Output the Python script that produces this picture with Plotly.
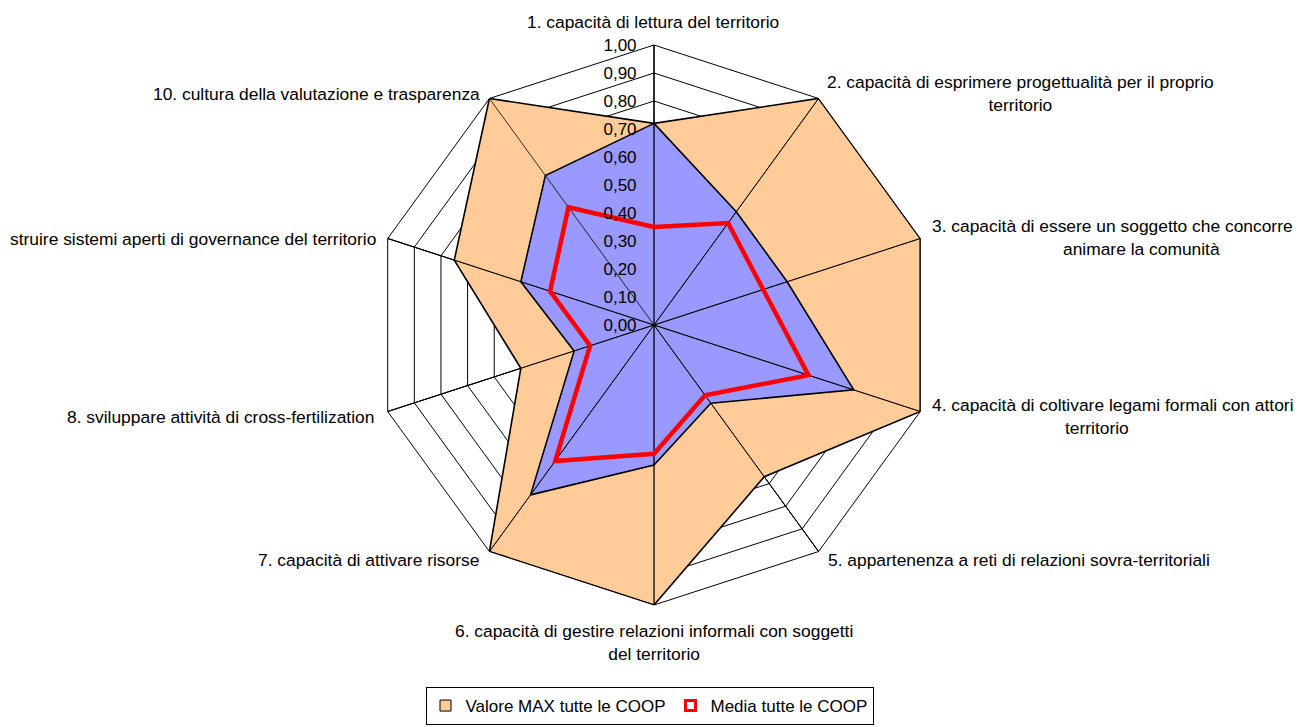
import plotly.graph_objects as go

categories = [
    "1. capacità di lettura del territorio",
    "2. capacità di esprimere progettualità per il proprio territorio",
    "3. capacità di essere un soggetto che concorre ad animare la comunità",
    "4. capacità di coltivare legami formali con attori del territorio",
    "5. appartenenza a reti di relazioni sovra-territoriali",
    "6. capacità di gestire relazioni informali con soggetti del territorio",
    "7. capacità di attivare risorse",
    "8. sviluppare attività di cross-fertilization",
    "9. capacità di costruire sistemi aperti di governance del territorio",
    "10. cultura della valutazione e trasparenza",
]
max_values = [0.72, 1.00, 1.00, 1.00, 0.67, 1.00, 1.00, 0.50, 0.75, 1.00]
blue_values = [0.72, 0.50, 0.50, 0.75, 0.345, 0.50, 0.75, 0.30, 0.50, 0.66]
media_values = [0.35, 0.45, 0.41, 0.58, 0.31, 0.46, 0.60, 0.24, 0.39, 0.52]
series_names = ["Valore MAX tutte le COOP", "Serie COOP", "Media tutte le COOP"]
radial_ticks = [0.0, 0.1, 0.2, 0.3, 0.4, 0.5, 0.6, 0.7, 0.8, 0.9, 1.0]

W, H = 1299, 727
FONT = "Liberation Sans, Arial, Helvetica, sans-serif"
FS = 17.4

def closed(vals):
    return list(vals) + [vals[0]]

theta_closed = closed(categories)

fig = go.Figure()
fig.add_trace(go.Scatterpolar(
    r=closed(max_values), theta=theta_closed, name=series_names[0],
    mode="lines", fill="toself", fillcolor="#FFCC99",
    line=dict(color="black", width=1.6), showlegend=False, legendgroup="max",
))
fig.add_trace(go.Scatterpolar(
    r=closed(blue_values), theta=theta_closed, name=series_names[1],
    mode="lines", fill="toself", fillcolor="#9999FF",
    line=dict(color="black", width=1.6), showlegend=False,
))
# category spokes drawn above the filled areas
spoke_r, spoke_t = [], []
for c in categories:
    spoke_r += [0, radial_ticks[-1]]
    spoke_t += [c, c]
fig.add_trace(go.Scatterpolar(
    r=spoke_r, theta=spoke_t, mode="lines", showlegend=False,
    line=dict(color="black", width=0.8), hoverinfo="skip",
))
fig.add_trace(go.Scatterpolar(
    r=closed(media_values), theta=theta_closed, name=series_names[2],
    mode="lines", line=dict(color="#FF0000", width=4.5),
    showlegend=False, legendgroup="media",
))
# legend entries in Excel style (square keys)
fig.add_trace(go.Scatterpolar(
    r=[None], theta=[None], name=series_names[0], mode="markers", legendgroup="max",
    marker=dict(symbol="square", size=11, color="#FFCC99", line=dict(color="black", width=1)),
))
fig.add_trace(go.Scatterpolar(
    r=[None], theta=[None], name=series_names[2], mode="markers", legendgroup="media",
    marker=dict(symbol="square", size=10, color="white", line=dict(color="#FF0000", width=3)),
))

cx, cy, R = 654, 325, 280
fig.update_layout(
    width=W, height=H,
    margin=dict(l=0, r=0, t=0, b=0, autoexpand=False),
    paper_bgcolor="white",
    separators=",.",
    font=dict(family=FONT, size=FS, color="black"),
    polar=dict(
        domain=dict(x=[(cx - R) / W, (cx + R) / W], y=[1 - (cy + R) / H, 1 - (cy - R) / H]),
        bgcolor="white",
        gridshape="linear",
        angularaxis=dict(
            rotation=90, direction="clockwise",
            showticklabels=False, ticks="",
            showline=True, linecolor="black", linewidth=1,
            showgrid=True, gridcolor="black", gridwidth=0.8,
        ),
        radialaxis=dict(
            range=[0, 1], tickvals=radial_ticks, tickformat=".2f",
            angle=90, side="counterclockwise", tickangle=90,
            showline=False, ticks="outside", ticklen=11, tickcolor="rgba(0,0,0,0)",
            showgrid=True, gridcolor="black", gridwidth=0.8,
            tickfont=dict(family=FONT, size=17, color="black"),
        ),
    ),
    legend=dict(
        orientation="h", x=0.5, xanchor="center", y=2 / H, yanchor="bottom",
        bordercolor="black", borderwidth=1, bgcolor="white",
        font=dict(family=FONT, size=17, color="black"),
        itemwidth=30, tracegroupgap=0,
    ),
)

# category labels (Excel-style placement)
label_specs = [
    (categories[0], 653, 22, "center"),
    ("2. capacità di esprimere progettualità per il proprio<br>territorio", 1020, 93, "center"),
    ("3. capacità di essere un soggetto che concorre", 930, 226, "left"),
    ("animare la comunità", 1141, 249, "center"),
    ("4. capacità di coltivare legami formali con attori", 930, 405, "left"),
    ("territorio", 1097, 428, "center"),
    (categories[4], 826, 560, "left"),
    ("6. capacità di gestire relazioni informali con soggetti<br>del territorio", 654, 642, "center"),
    (categories[6], 481, 560, "right"),
    (categories[7], 376, 417, "right"),
    ("struire sistemi aperti di governance del territorio", 378, 239, "right"),
    (categories[9], 482, 94, "right"),
]
for text, px, py, anchor in label_specs:
    fig.add_annotation(
        text=text, x=px / W, y=1 - py / H, xref="paper", yref="paper",
        xanchor=anchor, yanchor="middle", align="center", showarrow=False,
        font=dict(family=FONT, size=FS, color="black"),
    )

fig.write_html(
    "out.html",
    config={"displayModeBar": False},
    post_script="document.body.style.margin='0px';document.body.style.overflow='hidden';",
)
